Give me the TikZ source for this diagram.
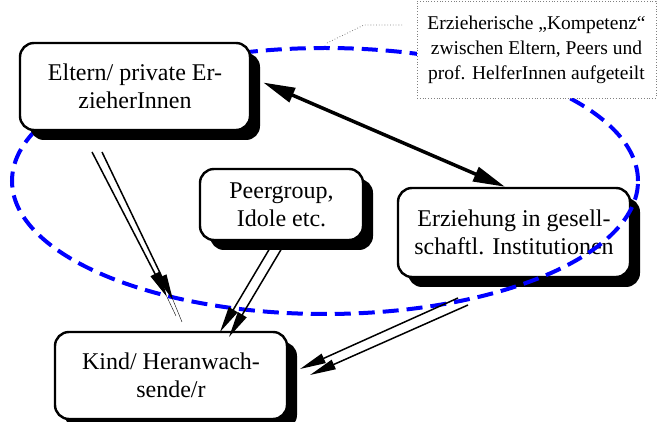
\documentclass[tikz,border=0pt]{standalone}
\usepackage{fontspec}
\setmainfont{Liberation Serif}
\usetikzlibrary{arrows.meta,shadows}

\tikzset{
    box/.style={draw, line width=2.4pt, rounded corners=14pt, fill=white,
        align=center, inner sep=0pt, font=\fontsize{24}{28}\selectfont,
        general shadow={fill=black, shadow xshift=10pt, shadow yshift=-10pt}},
    notebox/.style={draw=gray, dotted, line width=0.8pt, fill=white,
        align=center, inner sep=0pt, font=\fontsize{19.5}{25}\selectfont},
    influence/.style={line width=1.5pt, -{Triangle[length=26pt,width=10pt]}},
    mutual/.style={line width=3.5pt,
        {Triangle[length=32pt,width=15pt]}-{Triangle[length=32pt,width=15pt]}},
    circle of care/.style={blue, line width=4pt, dash pattern=on 16pt off 8pt}
}

\begin{document}
\begin{tikzpicture}[x=1pt, y=-1pt]

    % Canvas in pixel units of the original sketch (657 x 422)
    \useasboundingbox (0,0) rectangle (657,422);

    % 1. Institution box first, the dashed ellipse runs across it
    \node[box, minimum width=232pt, minimum height=89pt] (inst) at (514,232.5)
        {Erziehung in gesell-\\schaftl. Institutionen};

    % 2. The shared "competence" ellipse
    \draw[circle of care] (325,181) ellipse [x radius=313pt, y radius=133pt];

    % 3. The other boxes lie on top of the ellipse
    \node[box, minimum width=230pt, minimum height=87pt] (eltern) at (135,86.5)
        {Eltern/ private Er-\\zieherInnen};
    \node[box, minimum width=163pt, minimum height=71pt] (peer) at (281.5,204.5)
        {Peergroup,\\Idole etc.};
    \node[box, minimum width=232pt, minimum height=87pt] (kind) at (171,375.5)
        {Kind/ Heranwach-\\sende/r};

    % 4. Comment box with its dotted leader
    \node[notebox, minimum width=239pt, minimum height=97pt] (note) at (536.5,49.5)
        {Erzieherische „Kompetenz“\\zwischen Eltern, Peers und\\prof. HelferInnen aufgeteilt};
    \coordinate (leadA) at (327,43);
    \coordinate (leadB) at (364,25);
    \coordinate (leadC) at (402,25);
    \draw[gray, dotted, line width=0.8pt] (leadA) -- (leadB) -- (leadC);

    % 5. Mutual exchange between parents and institutions
    \draw[mutual] ([xshift=12pt, yshift=4pt]eltern.east) -- ([xshift=-9pt]inst.north);

    % 6. Influence arrows towards the child, always drawn as pairs
    \coordinate (e1) at (92,152);   \coordinate (e2) at (102,152);
    \coordinate (k1) at (167,297);  \coordinate (k2) at (173,300);
    \coordinate (t1) at (176,316);  \coordinate (t2) at (182,322);
    \draw[influence] (e1) -- (k1);
    \draw[influence] (e2) -- (k2);
    \draw[line width=0.4pt] (k1) -- (t1);
    \draw[line width=0.4pt] (k2) -- (t2);

    \coordinate (p1) at (270,248);  \coordinate (p2) at (282,248);
    \coordinate (k3) at (220,332);  \coordinate (k4) at (229,337);
    \draw[influence] (p1) -- (k3);
    \draw[influence] (p2) -- (k4);

    \coordinate (i1) at (458,298);  \coordinate (i2) at (468,305);
    \coordinate (k5) at (300,369);  \coordinate (k6) at (310,375);
    \draw[influence] (i1) -- (k5);
    \draw[influence] (i2) -- (k6);

\end{tikzpicture}
\end{document}
